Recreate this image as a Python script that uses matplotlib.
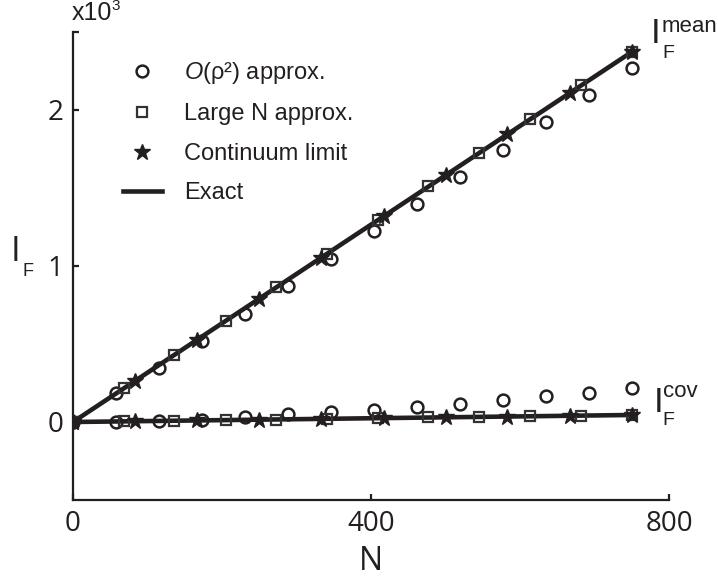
import matplotlib.pyplot as plt

plt.rcParams['font.family'] = ['Liberation Sans', 'DejaVu Sans']
plt.rcParams['mathtext.fontset'] = 'custom'
plt.rcParams['mathtext.rm'] = 'Liberation Sans'
plt.rcParams['mathtext.it'] = 'Liberation Sans:italic'

ink = '#231f20'

# values in units of 10^3
# O(rho^2) approximation (circles)
N_circ = [0, 58, 115, 173, 231, 288, 346, 404, 462, 519, 577, 635, 692, 750]
mean_circ = [0, 0.183, 0.348, 0.522, 0.692, 0.873, 1.043, 1.223, 1.397, 1.569, 1.743, 1.920, 2.094, 2.268]
cov_circ = [0, 0.002, 0.005, 0.013, 0.030, 0.050, 0.062, 0.076, 0.094, 0.113, 0.140, 0.166, 0.189, 0.221]

# large N approximation (squares)
N_sq = [0, 68, 136, 205, 273, 341, 409, 477, 545, 614, 682, 750]
mean_sq = [0, 0.216, 0.431, 0.648, 0.864, 1.079, 1.295, 1.510, 1.725, 1.943, 2.158, 2.373]
cov_sq = [0, 0.004, 0.008, 0.012, 0.016, 0.020, 0.025, 0.029, 0.033, 0.037, 0.041, 0.045]

# continuum limit (stars)
N_star = [0, 83, 167, 250, 333, 417, 500, 583, 667, 750]
mean_star = [0, 0.264, 0.528, 0.791, 1.054, 1.319, 1.583, 1.846, 2.110, 2.373]
cov_star = [0, 0.005, 0.010, 0.015, 0.020, 0.025, 0.030, 0.035, 0.040, 0.045]

# exact
N_exact = [0, 750]
mean_exact = [0, 2.372]
cov_exact = [0, 0.045]

W, H = 718, 580
fig = plt.figure(figsize=(W / 100, H / 100), dpi=100)
ax = fig.add_axes([73 / W, 1 - 500 / H, (669 - 73) / W, (500 - 32) / H])

ax.plot(N_exact, mean_exact, color=ink, lw=3.3, label='Exact', zorder=2)
ax.plot(N_exact, cov_exact, color=ink, lw=3.3, zorder=2)

circ = dict(ls='none', marker='o', ms=8.5, mfc='none', mec=ink, mew=1.8, zorder=3)
sq = dict(ls='none', marker='s', ms=6.5, mfc='none', mec='#333333', mew=1.6, zorder=3)
star = dict(ls='none', marker='*', ms=12, color=ink, mec=ink, zorder=4)

h_c, = ax.plot(N_circ, mean_circ, label=r'$\mathit{O}$(ρ²) approx.', **circ)
ax.plot(N_circ, cov_circ, **circ)
h_s, = ax.plot(N_sq, mean_sq, label='Large N approx.', **sq)
ax.plot(N_sq, cov_sq, **sq)
h_st, = ax.plot(N_star, mean_star, label='Continuum limit', **star)
ax.plot(N_star, cov_star, **star)
# filled blob at the origin
ax.plot([N_sq[0]], [mean_sq[0]], ls='none', marker='s', ms=7, color=ink, zorder=5)

ax.set_xlim(0, 800)
ax.set_ylim(-0.5, 2.5)
for s in ['top', 'right']:
    ax.spines[s].set_visible(False)
for s in ['left', 'bottom']:
    ax.spines[s].set_linewidth(1.6)
    ax.spines[s].set_color(ink)

ax.set_xticks([0, 400, 800])
ax.set_yticks([0, 1, 2, 2.5])
ax.set_yticklabels(['0', '1', '2', ''])
ax.tick_params(direction='in', length=4, width=1.6, color=ink, labelcolor=ink,
               labelsize=20, pad=7)
for lab in ax.get_xticklabels() + ax.get_yticklabels():
    lab.set_fontfamily('Open Sans')

ax.set_xlabel('N', fontsize=23, family='Open Sans', color=ink, labelpad=5)

# y label I_F
fig.text(16 / W, 1 - 252 / H, 'I', fontsize=25, family='Open Sans', color=ink,
         ha='center', va='center')
fig.text(28 / W, 1 - 271 / H, 'F', fontsize=13, color=ink, ha='center', va='center')

# x10^3
fig.text(72 / W, 1 - 20 / H, 'x10', fontsize=18, color=ink, ha='left', va='baseline')
fig.text(111 / W, 1 - 10 / H, '3', fontsize=11, color=ink, ha='left', va='baseline')

# curve labels
fig.text(651 / W, 1 - 43 / H, 'I', fontsize=25, color=ink, ha='left', va='baseline')
fig.text(662 / W, 1 - 32 / H, 'mean', fontsize=16, color=ink, ha='left', va='baseline')
fig.text(662 / W, 1 - 58 / H, 'F', fontsize=14, color=ink, ha='left', va='baseline')

fig.text(654 / W, 1 - 412 / H, 'I', fontsize=25, color=ink, ha='left', va='baseline')
fig.text(663 / W, 1 - 397 / H, 'cov', fontsize=16, color=ink, ha='left', va='baseline')
fig.text(662 / W, 1 - 425 / H, 'F', fontsize=14, color=ink, ha='left', va='baseline')

ax.legend(handles=[h_c, h_s, h_st, ax.lines[0]], loc='upper left',
          bbox_to_anchor=(123 / W, 1 - 60 / H), bbox_transform=fig.transFigure,
          frameon=False, fontsize=17, handlelength=1.65, handletextpad=0.95,
          labelspacing=0.74, borderpad=0, borderaxespad=0, labelcolor=ink)

fig.savefig('out.png', dpi=100)
